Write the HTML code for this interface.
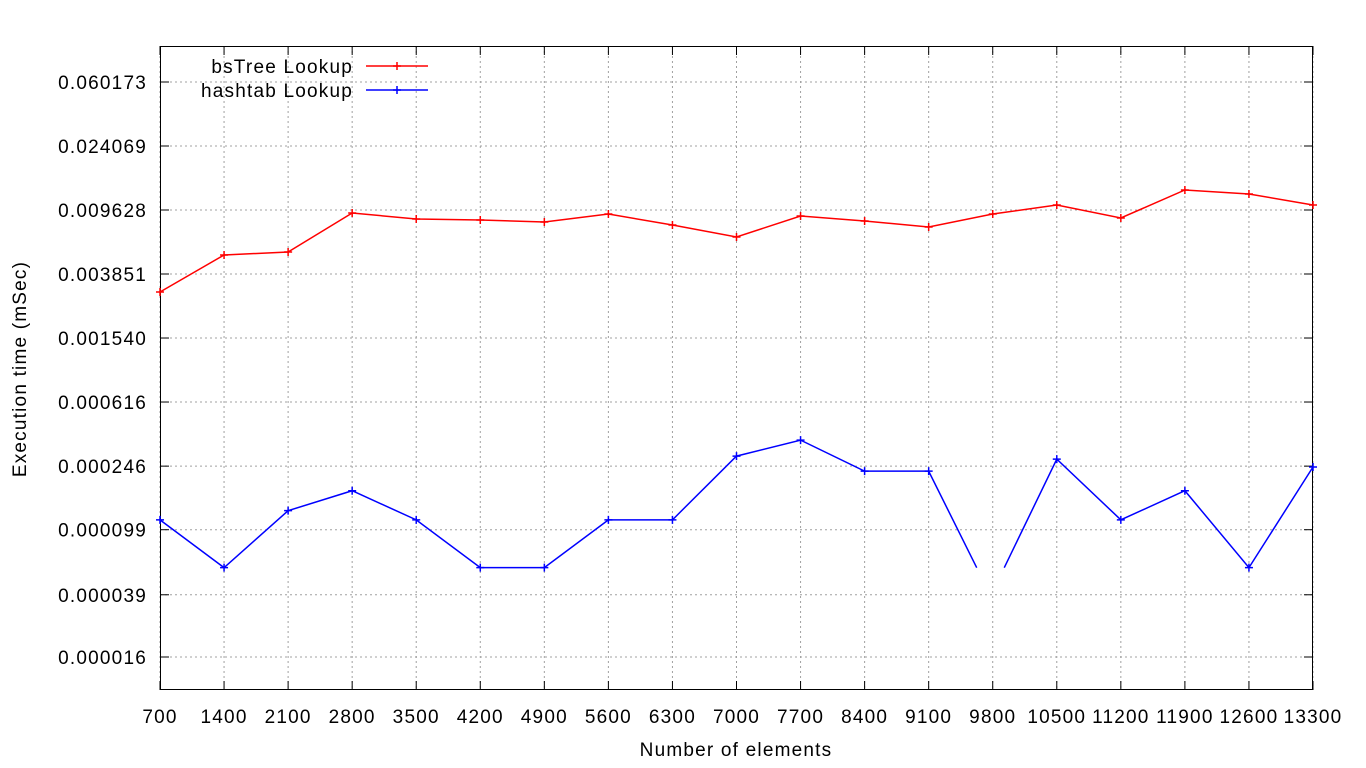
<!DOCTYPE html>
<html><head><meta charset="utf-8"><style>
html,body{margin:0;padding:0;background:#fff}
svg{display:block;font-family:"Liberation Sans",sans-serif}
svg text{letter-spacing:1.2px}
</style></head><body>
<svg id="chart" width="1366" height="768" viewBox="0 0 1366 768" xmlns="http://www.w3.org/2000/svg"></svg>
<script>
const categories=[700,1400,2100,2800,3500,4200,4900,5600,6300,7000,7700,8400,9100,9800,10500,11200,11900,12600,13300];
const bsTreeValues=[0.002976,0.005055,0.005276,0.009223,0.008464,0.008344,0.008107,0.009090,0.007767,0.006541,0.008835,0.008225,0.007548,0.009090,0.010342,0.008586,0.012820,0.012106,0.010342];
const hashtabValues=[0.000114,0.0000575,0.000130,0.000173,0.000114,0.0000575,0.0000575,0.000114,0.000114,0.000284,0.000357,0.000229,0.000229,null,0.000272,0.000114,0.000173,0.0000575,0.000243];
const yTickLabels=["0.060173","0.024069","0.009628","0.003851","0.001540","0.000616","0.000246","0.000099","0.000039","0.000016"];
const yTickValues=[0.060173,0.024069,0.009628,0.003851,0.001540,0.000616,0.000246,0.000099,0.000039,0.000016];
const hashGapStub=[0.0000575,0.0000575];
const NS="http://www.w3.org/2000/svg";
const svg=document.getElementById('chart');
const L=160,R=1313,T=46,B=690;
function xs(v){return L+(v-700)/(13300-700)*(R-L);}
function ys(v){return 82+64*Math.log(0.060173/v)/Math.log(2.5);}
function mk(tag,attrs,parent){const e=document.createElementNS(NS,tag);for(const k in attrs)e.setAttribute(k,attrs[k]);(parent||svg).appendChild(e);return e;}
const grid=mk('g',{});


categories.forEach(c=>{const x=xs(c);mk('line',{x1:x,x2:x,y1:T,y2:B,stroke:'#a0a0a0','stroke-dasharray':'2,3','stroke-width':1},grid);});
yTickValues.forEach(v=>{const y=ys(v);mk('line',{x1:L,x2:R,y1:y,y2:y,stroke:'#a0a0a0','stroke-dasharray':'2,3','stroke-width':1},grid);});
const frame=mk('rect',{x:L+0.5,y:T+0.5,width:R-L-1,height:B-T-1,fill:'none',stroke:'#000','stroke-width':1});


const xax=mk('g',{});


categories.forEach(c=>{const x=xs(c);
 mk('line',{x1:x,x2:x,y1:B,y2:B-9,stroke:'#000'},xax);mk('line',{x1:x,x2:x,y1:T,y2:T+9,stroke:'#000'},xax);
 const t=mk('text',{x:x,y:723,'text-anchor':'middle','font-size':19},xax);t.textContent=c;
 
 });
const yax=mk('g',{});


yTickValues.forEach((v,i)=>{const y=ys(v);
 mk('line',{x1:L,x2:L+9,y1:y,y2:y,stroke:'#000'},yax);mk('line',{x1:R,x2:R-9,y1:y,y2:y,stroke:'#000'},yax);
 const t=mk('text',{x:147,y:y+7,'text-anchor':'end','font-size':19},yax);t.textContent=yTickLabels[i];
 
 });
const xt=mk('text',{x:736,y:756,'text-anchor':'middle','font-size':19});xt.textContent='Number of elements';


const yt=mk('text',{x:26,y:369,'text-anchor':'middle','font-size':19,transform:'rotate(-90 26 369)'});yt.textContent='Execution time (mSec)';


function cross(g,x,y,col){mk('path',{d:`M${x-4},${y}H${x+4}M${x},${y-4}V${y+4}`,stroke:col,'stroke-width':1.5},g);}
function series(vals,col,name){
 const g=mk('g',{});
 
 
 let d='';let pen=false;
 vals.forEach((v,i)=>{
  if(v==null){
   const px=xs(categories[i-1]);
   const nx=xs(categories[i+1]);
   const sy0=ys(hashGapStub[0]),sy1=ys(hashGapStub[1]);
   const x0=px+(xs(categories[i])-px)*0.75, x1=xs(categories[i])+(nx-xs(categories[i]))*0.18;
   d+=`L${x0},${sy0}`;d+=`M${x1},${sy1}`;pen=true;return;}
  const x=xs(categories[i]),y=ys(v);
  d+=(pen?'L':'M')+x+','+y;pen=true;
 });
 mk('path',{d:d,fill:'none',stroke:col,'stroke-width':1.5},g);
 vals.forEach((v,i)=>{if(v!=null)cross(g,xs(categories[i]),ys(v),col);});
}
series(bsTreeValues,'#ff0000','bstree-series');
series(hashtabValues,'#0000ff','hashtab-series');
const lg=mk('g',{});


[['bsTree Lookup','#ff0000',66],['hashtab Lookup','#0000ff',90]].forEach(([n,c,y])=>{
 const t=mk('text',{x:353,y:y+7,'text-anchor':'end','font-size':19},lg);t.textContent=n;
 
 
 mk('line',{x1:366,x2:428,y1:y,y2:y,stroke:c,'stroke-width':1.5},lg);cross(lg,397,y,c);
});
</script>
</body></html>
